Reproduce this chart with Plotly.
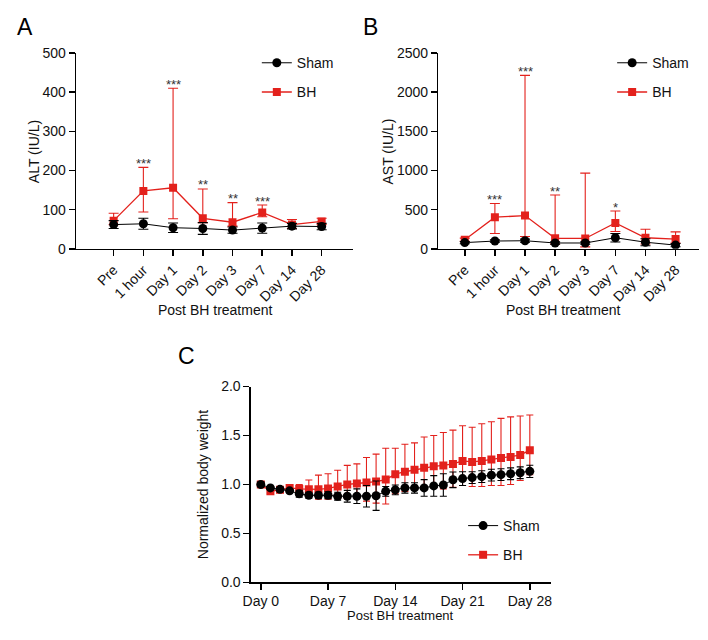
import plotly.graph_objects as go

# ---------------- data ----------------
categories = ["Pre", "1 hour", "Day 1", "Day 2", "Day 3", "Day 7", "Day 14", "Day 28"]

alt_sham = [62, 64, 54, 52, 48, 53, 58, 57]
alt_sham_err = [10, 14, 12, 15, 8, 13, 7, 8]
alt_bh = [72, 148, 156, 78, 68, 93, 62, 70]
alt_bh_plus = [19, 60, 254, 75, 50, 19, 13, 8]
alt_bh_minus = [10, 54, 79, 11, 10, 11, 10, 8]
alt_stars = ["", "***", "***", "**", "**", "***", "", ""]

ast_sham = [80, 100, 104, 75, 75, 142, 85, 48]
ast_sham_err = [15, 15, 20, 15, 15, 55, 45, 20]
ast_bh = [117, 404, 425, 135, 133, 330, 142, 125]
ast_bh_plus = [20, 175, 1790, 552, 834, 153, 108, 92]
ast_bh_minus = [20, 208, 267, 73, 108, 109, 80, 50]
ast_stars = ["", "***", "***", "**", "", "*", "", ""]

days = list(range(29))
bw_sham = [1.00, 0.965, 0.95, 0.935, 0.905, 0.89, 0.89, 0.89, 0.88, 0.88, 0.88, 0.88, 0.885,
           0.93, 0.945, 0.965, 0.965, 0.965, 0.985, 0.995, 1.048, 1.06, 1.07, 1.08, 1.095,
           1.10, 1.11, 1.12, 1.134]
bw_sham_err = [0.01, 0.015, 0.015, 0.02, 0.035, 0.03, 0.03, 0.035, 0.04, 0.06, 0.075, 0.11, 0.15,
               0.05, 0.05, 0.053, 0.053, 0.085, 0.105, 0.115, 0.08, 0.07, 0.06, 0.06, 0.06,
               0.06, 0.06, 0.06, 0.063]
bw_bh = [1.00, 0.93, 0.945, 0.965, 0.955, 0.95, 0.95, 0.96, 0.98, 1.00, 1.01, 1.02, 1.03,
         1.05, 1.105, 1.13, 1.15, 1.17, 1.185, 1.195, 1.21, 1.24, 1.23, 1.24, 1.255,
         1.27, 1.28, 1.30, 1.35]
bw_bh_plus = [0.01, 0.02, 0.02, 0.02, 0.045, 0.095, 0.145, 0.15, 0.165, 0.195, 0.20, 0.255, 0.28,
              0.32, 0.265, 0.28, 0.275, 0.315, 0.315, 0.335, 0.345, 0.36, 0.355, 0.38, 0.385,
              0.405, 0.41, 0.40, 0.36]
bw_bh_minus = [0.01, 0.02, 0.02, 0.02, 0.035, 0.07, 0.10, 0.11, 0.12, 0.14, 0.15, 0.19, 0.22,
               0.25, 0.20, 0.20, 0.20, 0.22, 0.22, 0.24, 0.24, 0.25, 0.25, 0.26, 0.265,
               0.28, 0.28, 0.26, 0.25]
day_ticks = [0, 7, 14, 21, 28]
day_ticktext = ["Day 0", "Day 7", "Day 14", "Day 21", "Day 28"]

# ---------------- style ----------------
# The page keeps the browser's default 8px body margin, so the figure is sized to
# fill the 708x640 window exactly: 692x624 drawn at offset (8, 8).
PAGE_W, PAGE_H, OFF = 708, 640, 8
W, H = PAGE_W - 2 * OFF, PAGE_H - 2 * OFF
RED = "#E3211C"
BLACK = "#000000"
FONT = "Liberation Sans, Arial, Helvetica, sans-serif"


def px(x):
    """window pixel x -> paper fraction"""
    return min(1.0, (x - OFF) / W)


def py(y):
    """window pixel y (from top) -> paper fraction"""
    return 1 - (y - OFF) / H


fig = go.Figure()
idx = list(range(len(categories)))


def add_panel(xa, ya, leg, x, sham, sham_err, bh, bh_plus, bh_minus, msize, capw):
    fig.add_trace(go.Scatter(
        x=x, y=bh, mode="lines+markers", name="BH",
        xaxis=xa, yaxis=ya, legend=leg, legendrank=2, legendgroup=leg + "bh",
        line=dict(color=RED, width=1.3),
        marker=dict(symbol="square", size=msize, color=RED),
        error_y=dict(type="data", symmetric=False, array=bh_plus, arrayminus=bh_minus,
                     color=RED, thickness=1.1, width=capw),
    ))
    fig.add_trace(go.Scatter(
        x=x, y=sham, mode="lines+markers", name="Sham",
        xaxis=xa, yaxis=ya, legend=leg, legendrank=1, legendgroup=leg + "sham",
        line=dict(color=BLACK, width=1),
        marker=dict(symbol="circle", size=msize + 1, color=BLACK),
        error_y=dict(type="data", array=sham_err, color=BLACK, thickness=1.1, width=capw),
    ))


add_panel("x", "y", "legend", idx, alt_sham, alt_sham_err, alt_bh, alt_bh_plus, alt_bh_minus, 8, 5)
add_panel("x2", "y2", "legend2", idx, ast_sham, ast_sham_err, ast_bh, ast_bh_plus, ast_bh_minus, 8, 5)
add_panel("x3", "y3", "legend3", days, bw_sham, bw_sham_err, bw_bh, bw_bh_plus, bw_bh_minus, 8, 3.5)

axis_common = dict(showline=True, linecolor=BLACK, linewidth=1.5, ticks="outside", ticklen=6,
                   tickwidth=1.5, tickcolor=BLACK, showgrid=False, zeroline=False,
                   tickfont=dict(family=FONT, size=14, color="#111"))

# B's x axis runs off the right edge of the picture; it is cut at the page edge
b_right = 8.04 - (708 - 700) / 30.5

fig.update_layout(
    width=W, height=H, margin=dict(l=0, r=0, t=0, b=0),
    paper_bgcolor="white", plot_bgcolor="white",
    font=dict(family=FONT, size=14, color="#111"),
    xaxis=dict(domain=[px(69), px(349)], range=[-1.26, 8.04], anchor="y",
               tickvals=idx, ticktext=categories, tickangle=-45, **axis_common),
    yaxis=dict(domain=[py(247), py(46)], range=[0, 500], dtick=100, anchor="x", **axis_common),
    xaxis2=dict(domain=[px(436), px(700)], range=[-0.875, b_right], anchor="y2",
                tickvals=idx, ticktext=categories, tickangle=-45, **axis_common),
    yaxis2=dict(domain=[py(247), py(46)], range=[0, 2500], dtick=500, anchor="x2", **axis_common),
    xaxis3=dict(domain=[px(246), px(550)], range=[-1.03, 30.2], anchor="y3",
                tickvals=day_ticks, ticktext=day_ticktext, ticklabelstandoff=-1, **axis_common),
    yaxis3=dict(domain=[py(589.3), py(388.3)], range=[0, 2], dtick=0.5, tickformat=".1f",
                anchor="x3", **axis_common),
)

leg_common = dict(font=dict(family=FONT, size=14, color="#111"), bgcolor="rgba(0,0,0,0)",
                  traceorder="grouped", tracegroupgap=8, xanchor="left", yanchor="top")
fig.update_layout(
    legend=dict(x=px(252), y=py(40), **leg_common),
    legend2=dict(x=px(612), y=py(40), **leg_common),
    legend3=dict(x=px(461), y=py(515), **leg_common),
)

ann = []
# significance stars above the BH error caps
for xa, ya, bh, plus, stars in [("x", "y", alt_bh, alt_bh_plus, alt_stars),
                                 ("x2", "y2", ast_bh, ast_bh_plus, ast_stars)]:
    for i, s in enumerate(stars):
        if s:
            ann.append(dict(x=i, y=bh[i] + plus[i], xref=xa, yref=ya, text=s, showarrow=False,
                            yanchor="middle", yshift=4, font=dict(family=FONT, size=13, color="#333")))

# panel letters
for letter, x, y in [("A", 7, 4), ("B", 358, 4), ("C", 170, 342)]:
    ann.append(dict(x=px(x), y=py(y), xref="paper", yref="paper", text=letter, showarrow=False,
                    xanchor="left", yanchor="top", font=dict(family=FONT, size=23, color="#000")))

# axis titles
for text, x, y, ang, yanc, fs in [("ALT (IU/L)", 27, 147, -90, "middle", 14),
                                  ("AST (IU/L)", 385, 147, -90, "middle", 14),
                                  ("Normalized body weight", 197, 489, -90, "middle", 14),
                                  ("Post BH treatment", 210, 310, 0, "middle", 14),
                                  ("Post BH treatment", 562, 310, 0, "middle", 14),
                                  ("Post BH treatment", 398, 632, 0, "bottom", 13)]:
    ann.append(dict(x=px(x), y=py(y), xref="paper", yref="paper", text=text, showarrow=False,
                    textangle=ang, xanchor="center", yanchor=yanc, borderpad=0,
                    font=dict(family=FONT, size=fs, color="#111")))

fig.update_layout(annotations=ann)

fig.write_html("out.html", config={"displayModeBar": False, "staticPlot": True})
